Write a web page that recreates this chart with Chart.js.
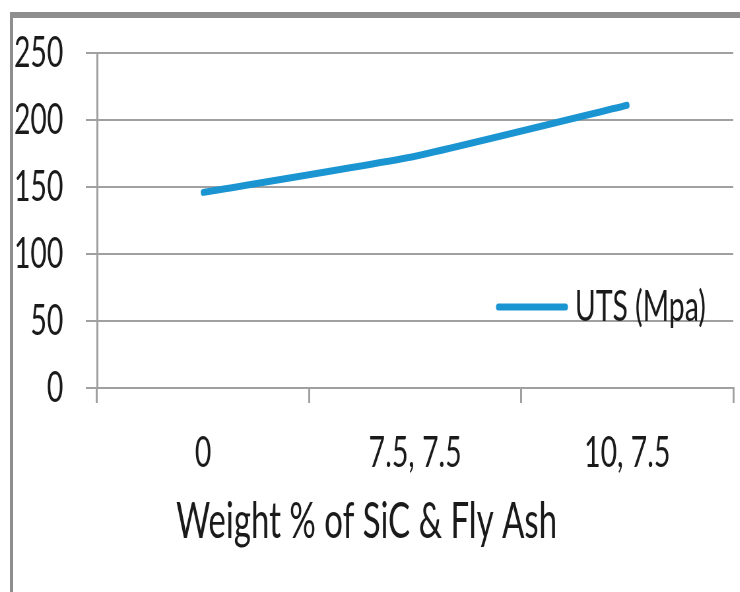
<!DOCTYPE html>
<html>
<head>
<meta charset="utf-8">
<script src="https://cdn.jsdelivr.net/npm/chart.js@4/dist/chart.umd.min.js"></script>
<style>
    html, body { margin: 0; padding: 0; background: #fff; }
    #page { position: relative; width: 740px; height: 592px; overflow: hidden; }
    #frame {
        position: absolute; left: 10px; top: 12px; width: 730px; height: 580px;
        border-top: 6px solid #8e8e8e; border-left: 3px solid #8e8e8e;
        box-sizing: border-box;
    }
    /* the original picture is squeezed sideways, so draw wide and squeeze it */
    #wrap {
        position: absolute; left: 0; top: 0; width: 1121px; height: 592px;
        transform: scaleX(0.66); transform-origin: 0 0;
    }
</style>
</head>
<body>
<div id="page">
    <div id="frame"></div>
    <div id="wrap"><canvas id="utsChart" width="1121" height="592"></canvas></div>
</div>
<script>
// Chart data
const categories = ['0', '7.5, 7.5', '10, 7.5'];
const utsValues = [146, 173, 211];
const yTicks = [0, 50, 100, 150, 200, 250];

const textColor = '#1a1a1a';
const gridColor = '#a0a0a0';
const lineColor = '#1b95d2';
const fontFamily = 'Lato, "Open Sans", sans-serif';

// Legend sits inside the plot, on the right
const insideLegend = {
    id: 'insideLegend',
    afterDatasetsDraw(chart) {
        const ds = chart.data.datasets[0];
        const { ctx } = chart;
        const y = 307;
        ctx.save();
        ctx.strokeStyle = ds.borderColor;
        ctx.lineWidth = 7;
        ctx.lineCap = 'round';
        ctx.beginPath();
        ctx.moveTo(755, y);
        ctx.lineTo(857, y);
        ctx.stroke();
        ctx.fillStyle = textColor;
        ctx.font = `43px ${fontFamily}`;
        ctx.textBaseline = 'middle';
        ctx.textAlign = 'left';
        ctx.fillText(ds.label, 871, y);
        ctx.restore();
    }
};

const ctx = document.getElementById('utsChart').getContext('2d');
new Chart(ctx, {
    type: 'line',
    data: {
        labels: categories,
        datasets: [{
            label: 'UTS (Mpa)',
            data: utsValues,
            borderColor: lineColor,
            borderWidth: 7,
            borderCapStyle: 'round',
            borderJoinStyle: 'round',
            tension: 0.15,
            pointRadius: 0,
            fill: false
        }]
    },
    options: {
        responsive: false,
        animation: false,
        layout: { padding: { top: 53, right: 10, bottom: 0, left: 0 } },
        plugins: {
            legend: { display: false },
            tooltip: { enabled: false },
            title: {
                display: true,
                position: 'bottom',
                text: 'Weight % of SiC & Fly Ash',
                color: textColor,
                font: { family: fontFamily, size: 50, weight: 'normal', lineHeight: 1.2 },
                padding: { top: 10, bottom: 40 }
            }
        },
        scales: {
            x: {
                offset: true,
                afterFit: (scale) => { scale.height = 94; },
                grid: {
                    offset: true,
                    drawOnChartArea: false,
                    drawTicks: true,
                    tickLength: 15,
                    color: gridColor,
                    lineWidth: 3
                },
                border: { display: true, color: gridColor, width: 2 },
                ticks: {
                    color: textColor,
                    padding: 24,
                    maxRotation: 0,
                    font: { family: fontFamily, size: 43 }
                }
            },
            y: {
                min: yTicks[0],
                max: yTicks[yTicks.length - 1],
                afterFit: (scale) => {
                    scale.width = 147;
                    scale.paddingTop = 0;
                    scale.paddingBottom = 0;
                },
                afterBuildTicks: (scale) => { scale.ticks = yTicks.map(v => ({ value: v })); },
                grid: {
                    color: gridColor,
                    lineWidth: 2,
                    drawTicks: true,
                    tickLength: 17
                },
                border: { display: true, color: gridColor, width: 3 },
                ticks: {
                    color: textColor,
                    padding: 34,
                    font: { family: fontFamily, size: 43 }
                }
            }
        }
    },
    plugins: [insideLegend]
});
</script>
</body>
</html>
